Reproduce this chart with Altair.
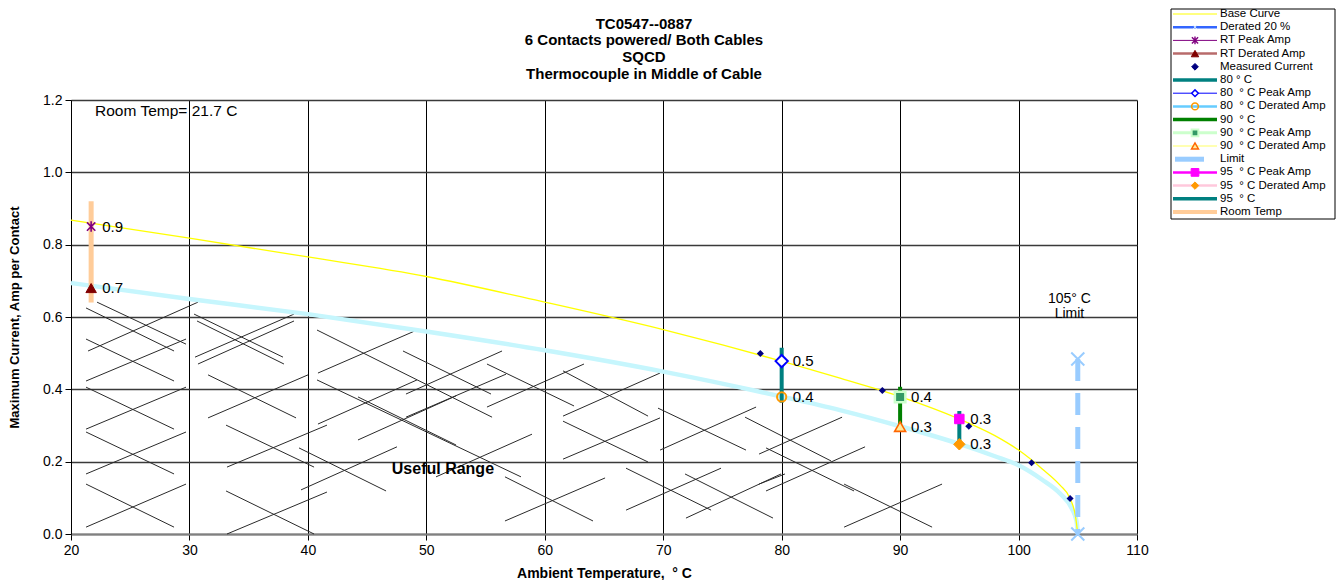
import altair as alt
import pandas as pd

# ---------------- values ----------------
# Base curve (yellow)
base_T = [20, 30, 40, 50, 60, 70, 75, 80, 85, 90, 95, 98, 100, 102, 103.5, 104.35, 104.8, 105]
base_I = [0.868, 0.818, 0.766, 0.712, 0.641, 0.565, 0.523, 0.478, 0.430, 0.380, 0.318, 0.272,
          0.232, 0.180, 0.135, 0.098, 0.050, 0.0]

# Derated 20 % curve (light cyan)
der_T = [20, 30, 40, 50, 60, 70, 80, 85, 90, 95, 98, 100, 102, 103.5, 104.5, 104.9, 105]
der_I = [0.694, 0.650, 0.608, 0.560, 0.508, 0.449, 0.380, 0.342, 0.298, 0.249, 0.215, 0.190,
         0.150, 0.112, 0.070, 0.035, 0.0]

# Measured current
meas_T = [78.2, 88.5, 95.8, 101.1, 104.35]
meas_I = [0.499, 0.397, 0.298, 0.197, 0.098]

# Single amp markers with their data labels
pt_series = ["RT Peak Amp", "RT Derated Amp", "80 Peak", "80 Derated",
             "90 Peak", "90 Derated", "95 Peak", "95 Derated"]
pt_T = [21.7, 21.7, 80, 80, 90, 90, 95, 95]
pt_I = [0.85, 0.68, 0.478, 0.379, 0.379, 0.297, 0.318, 0.248]
pt_labels = ["0.9", "0.7", "0.5", "0.4", "0.4", "0.3", "0.3", "0.3"]

# Vertical range bars
bar_names = ["Room Temp", "80 C", "90 C", "95 C"]
bar_T = [21.7, 80, 90, 95]
bar_lo = [0.64, 0.363, 0.294, 0.249]
bar_hi = [0.92, 0.515, 0.407, 0.340]

# 105 C limit
limit_T = [105, 105]
limit_I = [0.484, 0.0]

# "Useful range" hatch segments (temperature / amp end points)
hatch_T1 = [22.2, 21.27, 21.44, 21.27, 21.27, 21.27, 21.27, 21.27, 21.27, 21.27, 21.27,
            30.39, 30.64, 30.47, 30.72, 31.57, 31.57, 33.09, 33.17, 33.09, 33.17,
            40.77, 40.85, 40.77, 40.85, 39.25, 39.42, 44.23, 44.23, 48.28, 48.03, 48.28,
            55.12, 55.12, 50.82, 56.64, 56.64,
            61.54, 61.54, 61.54, 61.54, 69.56, 69.73, 66.86, 66.86, 71.84, 71.92,
            76.91, 78.68, 78.09, 78.68, 78.09, 85.27, 85.27]
hatch_I1 = [0.641, 0.625, 0.506, 0.539, 0.423, 0.406, 0.290, 0.282, 0.166, 0.138, 0.019,
            0.608, 0.589, 0.489, 0.470, 0.440, 0.321, 0.301, 0.185, 0.119, 0.0,
            0.564, 0.445, 0.426, 0.304, 0.238, 0.122, 0.379, 0.260, 0.323, 0.506, 0.387,
            0.470, 0.351, 0.158, 0.158, 0.036,
            0.451, 0.326, 0.312, 0.207, 0.348, 0.232, 0.182, 0.066, 0.166, 0.044,
            0.323, 0.238, 0.221, 0.119, 0.138, 0.138, 0.019]
hatch_T2 = [29.71, 28.70, 30.72, 28.70, 29.71, 28.70, 29.71, 28.70, 29.71, 28.70, 29.71,
            37.90, 37.98, 38.83, 38.83, 39.00, 40.01, 40.52, 41.61, 40.52, 41.61,
            55.55, 49.21, 57.99, 49.21, 46.60, 47.52, 52.51, 52.51, 56.73, 55.46, 56.39,
            62.47, 63.31, 58.92, 64.07, 65.09,
            68.72, 69.73, 68.72, 69.73, 76.99, 77.84, 74.04, 74.88, 79.27, 79.95,
            84.17, 86.11, 85.10, 87.04, 80.28, 92.70, 93.54]
hatch_I2 = [0.525, 0.506, 0.641, 0.423, 0.539, 0.290, 0.406, 0.166, 0.282, 0.019, 0.138,
            0.489, 0.470, 0.608, 0.589, 0.321, 0.440, 0.185, 0.301, 0.0, 0.116,
            0.323, 0.564, 0.158, 0.426, 0.119, 0.241, 0.246, 0.382, 0.442, 0.387, 0.506,
            0.354, 0.470, 0.276, 0.036, 0.155,
            0.326, 0.445, 0.199, 0.321, 0.232, 0.351, 0.066, 0.182, 0.044, 0.166,
            0.202, 0.119, 0.323, 0.241, 0.166, 0.019, 0.138]

# Legend entries
leg_labels = ["Base Curve", "Derated 20 %", "RT Peak Amp", "RT Derated Amp", "Measured Current",
              "80 ° C", "80\u00a0 ° C Peak Amp", "80\u00a0 ° C Derated Amp", "90\u00a0 ° C",
              "90\u00a0 ° C Peak Amp", "90\u00a0 ° C Derated Amp", "Limit",
              "95\u00a0 ° C Peak Amp", "95\u00a0 ° C Derated Amp", "95\u00a0 ° C", "Room Temp"]

title_lines = ["TC0547--0887", "6 Contacts powered/ Both Cables", "SQCD",
               "Thermocouple in Middle of Cable"]

# ---------------- styles ----------------
FONT = "Liberation Sans"
ASTER = "M-0.8,-0.8L0.8,0.8M-0.8,0.8L0.8,-0.8M0,-1L0,1"
XSHP = "M-1,-1L1,1M-1,1L1,-1"

pt_style = {
    "RT Peak Amp":    dict(shape=ASTER, fill="transparent", stroke="#800080", size=110, sw=1.6),
    "RT Derated Amp": dict(shape="triangle-up", fill="#800000", stroke="#800000", size=110, sw=1),
    "80 Peak":        dict(shape="diamond", fill="white", stroke="#0000FF", size=150, sw=2),
    "80 Derated":     dict(shape="circle", fill="transparent", stroke="#FF9900", size=85, sw=2),
    "90 Peak":        dict(shape="square", fill="#339966", stroke="#CCFFCC", size=110, sw=2.5),
    "90 Derated":     dict(shape="triangle-up", fill="#FFEB9C", stroke="#FF6600", size=120, sw=1.6),
    "95 Peak":        dict(shape="square", fill="#FF00FF", stroke="#FF00FF", size=90, sw=1),
    "95 Derated":     dict(shape="diamond", fill="#FF9900", stroke="#FF9900", size=130, sw=1),
}
bar_style = {"Room Temp": ("#FFCC99", 5), "80 C": ("#008080", 4),
             "90 C": ("#008000", 4), "95 C": ("#008080", 4)}

leg_line = [("#FFFF00", 1), ("#3366FF", 2.5), ("#800080", 1), ("#B86B6B", 2.5), ("white", 0),
            ("#008080", 3.5), ("#0000FF", 1), ("#66CCFF", 2.5), ("#008000", 3.5),
            ("#CCFFCC", 3), ("#FFFF99", 1.5), ("#99CCFF", 5), ("#FF00FF", 2.5),
            ("#FFC8DC", 2.5), ("#008080", 3.5), ("#FFCC99", 4)]
leg_mark = [None, dict(shape=XSHP, fill="transparent", stroke="#DDEEFF", size=16, sw=1),
            dict(shape=ASTER, fill="transparent", stroke="#800080", size=60, sw=1.4),
            dict(shape="triangle-up", fill="#800000", stroke="#800000", size=55, sw=1),
            dict(shape="diamond", fill="#000080", stroke="#000080", size=45, sw=1),
            None,
            dict(shape="diamond", fill="white", stroke="#0000FF", size=45, sw=1.5),
            dict(shape="circle", fill="transparent", stroke="#FF9900", size=45, sw=1.6),
            None,
            dict(shape="square", fill="#339966", stroke="#CCFFCC", size=45, sw=2),
            dict(shape="triangle-up", fill="#FFEB9C", stroke="#FF6600", size=50, sw=1.4),
            None,
            dict(shape="square", fill="#FF00FF", stroke="#FF00FF", size=60, sw=1),
            dict(shape="diamond", fill="#FF9900", stroke="#FF9900", size=55, sw=1),
            None, None]

# ---------------- tables ----------------
base_df = pd.DataFrame({"T": base_T, "I": base_I})
der_df = pd.DataFrame({"T": der_T, "I": der_I})
meas_df = pd.DataFrame({"T": meas_T, "I": meas_I})
pts_df = pd.DataFrame({"s": pt_series, "T": pt_T, "I": pt_I, "lab": pt_labels})
for k in ["shape", "fill", "stroke", "size", "sw"]:
    pts_df[k] = [pt_style[s][k] for s in pt_series]
bars_df = pd.DataFrame({"n": bar_names, "T": bar_T, "lo": bar_lo, "hi": bar_hi})
bars_df["c"] = [bar_style[n][0] for n in bar_names]
bars_df["w"] = [bar_style[n][1] for n in bar_names]
lim_df = pd.DataFrame({"T": limit_T, "I": limit_I})
hatch_df = pd.DataFrame({"T1": hatch_T1, "I1": hatch_I1, "T2": hatch_T2, "I2": hatch_I2})

xs = alt.Scale(domain=[20, 110], nice=False, zero=False)
ys = alt.Scale(domain=[0, 1.2], nice=False)
xax = alt.Axis(values=list(range(20, 111, 10)), title="Ambient Temperature,\u00a0 ° C",
               labelFontSize=14, titleFontSize=14, titleFontWeight="bold", titlePadding=9,
               labelFlush=False, labelOverlap=False,
               grid=True, gridColor="black", gridWidth=1, domainColor="#808080", domainWidth=2,
               tickColor="black", tickSize=6, labelPadding=3, labelColor="black", titleColor="black")
yax = alt.Axis(values=[0, 0.2, 0.4, 0.6, 0.8, 1.0, 1.2], format=".1f",
               title="Maximum Current, Amp per Contact",
               labelFontSize=14, titleFontSize=13, titleFontWeight="bold", titlePadding=21,
               labelFlush=False, labelOverlap=False,
               grid=True, gridColor="#3a3a3a", gridWidth=1.5, domainColor="black", domainWidth=1,
               tickColor="black", tickSize=6, labelPadding=3, labelColor="black", titleColor="black")

X = lambda f: alt.X(f, type="quantitative", scale=xs, axis=xax)
Y = lambda f: alt.Y(f, type="quantitative", scale=ys, axis=yax)

hatch = alt.Chart(hatch_df).mark_rule(color="#2a2a2a", strokeWidth=1).encode(
    x=X("T1"), y=Y("I1"), x2="T2", y2="I2")

blue_line = alt.Chart(der_df).mark_line(color="#3366FF", strokeWidth=2, interpolate="monotone").encode(
    x=X("T"), y=Y("I"))
cyan_line = alt.Chart(der_df).mark_line(color="#C6F6FD", strokeWidth=4.5, interpolate="monotone").encode(
    x=X("T"), y=Y("I"))
yellow_line = alt.Chart(base_df).mark_line(color="#FFFF00", strokeWidth=1.3, interpolate="monotone").encode(
    x=X("T"), y=Y("I"))

bars = alt.Chart(bars_df).mark_rule().encode(
    x=X("T"), y=Y("lo"), y2="hi",
    color=alt.Color("c:N", scale=None), size=alt.Size("w:Q", scale=None))

limit_line = alt.Chart(lim_df).mark_line(color="#99CCFF", strokeWidth=5, strokeDash=[22, 12]).encode(
    x=X("T"), y=Y("I"))
limit_pts = alt.Chart(lim_df).mark_point(shape=XSHP, color="#99CCFF", size=170, strokeWidth=2,
                                         filled=False, opacity=1).encode(x=X("T"), y=Y("I"))

meas = alt.Chart(meas_df).mark_point(shape="diamond", filled=True, color="#000080", size=50,
                                     opacity=1).encode(x=X("T"), y=Y("I"))

pts = alt.Chart(pts_df).mark_point(opacity=1).encode(
    x=X("T"), y=Y("I"),
    shape=alt.Shape("shape:N", scale=None),
    fill=alt.Fill("fill:N", scale=None),
    stroke=alt.Stroke("stroke:N", scale=None),
    size=alt.Size("size:Q", scale=None),
    strokeWidth=alt.StrokeWidth("sw:Q", scale=None))

labels = alt.Chart(pts_df).mark_text(align="left", baseline="middle", dx=11, fontSize=15,
                                     font=FONT, color="black").encode(
    x=X("T"), y=Y("I"), text="lab:N")

ann_df = pd.DataFrame({"T": [22.03], "I": [1.17], "t": ["Room Temp= 21.7 C"]})
ann = alt.Chart(ann_df).mark_text(align="left", baseline="middle", fontSize=15.5, font=FONT,
                                  color="black").encode(x=X("T"), y=Y("I"), text="t:N")
useful_df = pd.DataFrame({"T": [51.4], "I": [0.18], "t": ["Useful Range"]})
useful = alt.Chart(useful_df).mark_text(align="center", baseline="middle", fontSize=16,
                                        fontWeight="bold", font=FONT, color="black").encode(
    x=X("T"), y=Y("I"), text="t:N")
lim_txt_df = pd.DataFrame({"T": [104.3, 104.3], "I": [0.651, 0.608], "t": ["105° C", "Limit"]})
lim_txt = alt.Chart(lim_txt_df).mark_text(align="center", baseline="middle", fontSize=14,
                                          font=FONT, color="black").encode(
    x=X("T"), y=Y("I"), text="t:N")

main = alt.layer(hatch, blue_line, cyan_line, yellow_line, bars, limit_line, limit_pts,
                 meas, pts, labels, ann, useful, lim_txt).properties(
    width=1066, height=434,
    title=alt.TitleParams(text=title_lines, fontSize=15, fontWeight="bold", font=FONT,
                          lineHeight=16.8, anchor="middle", offset=11, color="black", dx=40))

# ---------------- legend panel (drawn upward, to sit at the top of the page) ----------------
leg_df = pd.DataFrame({"idx": list(range(len(leg_labels))), "lab": leg_labels,
                       "lc": [c for c, w in leg_line], "lw": [w for c, w in leg_line]})
mk_rows = [dict(idx=i, **m) for i, m in enumerate(leg_mark) if m is not None]
mk_df = pd.DataFrame(mk_rows)

ly = alt.Y("idx:Q", scale=alt.Scale(domain=[0, 15], range=[-86, 112]), axis=None)
box = alt.Chart(pd.DataFrame({"a": [0]})).mark_rect(fill="white", stroke="black", strokeWidth=1).encode(
    x=alt.value(0), x2=alt.value(164), y=alt.value(-91), y2=alt.value(119))
lrules = alt.Chart(leg_df).transform_filter("datum.lw > 0 && datum.lab != 'Limit'").mark_rule().encode(
    x=alt.value(2), x2=alt.value(46), y=ly,
    color=alt.Color("lc:N", scale=None), size=alt.Size("lw:Q", scale=None))
lrule_lim = alt.Chart(leg_df).transform_filter("datum.lab == 'Limit'").mark_rule().encode(
    x=alt.value(4), x2=alt.value(33), y=ly,
    color=alt.Color("lc:N", scale=None), size=alt.Size("lw:Q", scale=None))
lmarks = alt.Chart(mk_df).mark_point(opacity=1).encode(
    x=alt.value(24), y=ly,
    shape=alt.Shape("shape:N", scale=None),
    fill=alt.Fill("fill:N", scale=None),
    stroke=alt.Stroke("stroke:N", scale=None),
    size=alt.Size("size:Q", scale=None),
    strokeWidth=alt.StrokeWidth("sw:Q", scale=None))
ltext = alt.Chart(leg_df).mark_text(align="left", baseline="middle", fontSize=11.5, font=FONT,
                                    color="black").encode(x=alt.value(49), y=ly, text="lab:N")
legend = alt.layer(box, lrules, lrule_lim, lmarks, ltext).properties(width=164, height=119)

chart = alt.hconcat(main, legend, spacing=21).configure(
    font=FONT, padding=0
).configure_view(stroke=None).configure_axis(labelFont=FONT, titleFont=FONT)

chart.save("out.html", embed_options={"renderer": "svg", "actions": False})
